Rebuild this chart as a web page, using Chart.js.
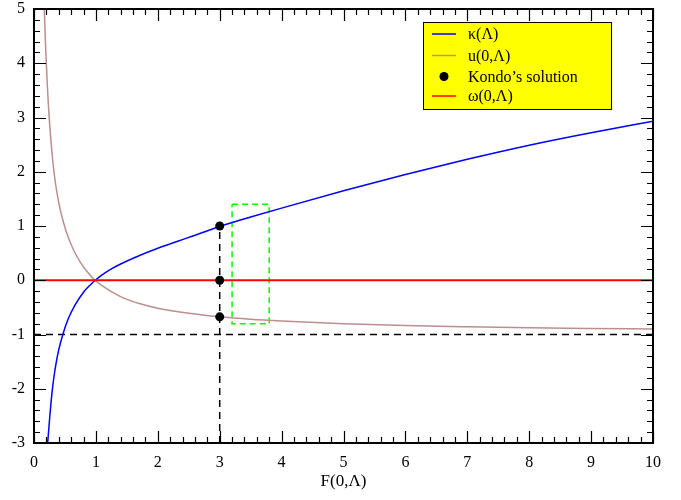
<!DOCTYPE html>
<html>
<head>
<meta charset="utf-8">
<script src="https://cdn.jsdelivr.net/npm/chart.js@4.4.1/dist/chart.umd.min.js"></script>
<style>
html,body{margin:0;padding:0;background:#fff;}
#wrap{width:681px;height:500px;}
</style>
</head>
<body>
<div id="wrap"><canvas id="c" width="681" height="500"></canvas></div>
<script>
// ---- data ----
const kappaF   = [0.215, 0.221, 0.235, 0.25, 0.275, 0.296, 0.325, 0.355, 0.40, 0.468, 0.55, 0.662, 0.80, 0.90, 1.0, 1.1, 1.25, 1.4, 1.63, 2.0, 2.5, 3.0, 3.5, 4, 5, 6, 7, 8, 9, 10];
const kappaVal = [-3.12, -3.0, -2.8, -2.58, -2.25, -2.02, -1.76, -1.54, -1.28, -0.99, -0.72, -0.46, -0.22, -0.095, 0.01, 0.10, 0.21, 0.30, 0.42, 0.59, 0.79, 0.99, 1.165, 1.33, 1.65, 1.95, 2.23, 2.49, 2.72, 2.93];
const uF   = [0.166, 0.175, 0.185, 0.2, 0.215, 0.23, 0.25, 0.275, 0.3, 0.33, 0.37, 0.42, 0.48, 0.55, 0.65, 0.75, 0.85, 0.985, 1.1, 1.25, 1.45, 1.7, 2.0, 2.5, 3.0, 3.5, 4, 5, 6, 7, 8, 9, 10];
const uVal = [5.0, 4.7, 4.38, 3.98, 3.6, 3.28, 2.92, 2.55, 2.24, 1.93, 1.62, 1.32, 1.05, 0.8, 0.53, 0.33, 0.17, 0.0, -0.1, -0.21, -0.33, -0.43, -0.515, -0.61, -0.675, -0.72, -0.752, -0.8, -0.835, -0.858, -0.876, -0.889, -0.9];
const kondoF   = [3, 3, 3];
const kondoVal = [1, 0, -0.675];
const omegaF   = [0, 10];
const omegaVal = [0, 0];
const hGuideF   = [0, 10];
const hGuideVal = [-1, -1];
const vGuideF   = [3, 3];
const vGuideVal = [-3, 1];
const boxF   = [3.2, 3.8, 3.8, 3.2, 3.2];
const boxVal = [1.4, 1.4, -0.8, -0.8, 1.4];
const legendLabels = ['κ(Λ)', 'u(0,Λ)', 'Kondo’s solution', 'ω(0,Λ)'];
const xTitle = 'F(0,Λ)';
const xMin = 0, xMax = 10, yMin = -3, yMax = 5;

const pts = (xs, ys) => xs.map((x, i) => ({x: x, y: ys[i]}));
const FONT = "'Liberation Serif','Times New Roman',serif";

const COL = {kappa: '#0000ff', u: '#bc8f8f', omega: '#ff0000', kondo: '#000000', box: '#00ff00'};

const framePlugin = {
  id: 'frameTicks',
  afterDraw(chart) {
    const ctx = chart.ctx, a = chart.chartArea, xs = chart.scales.x, ys = chart.scales.y;
    ctx.save();
    ctx.strokeStyle = '#000';
    ctx.lineWidth = 1.2;
    ctx.beginPath();
    const nx = (xMax - xMin) * 5;
    for (let i = 0; i <= nx; i++) {
      const px = Math.round(xs.getPixelForValue(xMin + i / 5)) + 0.5;
      const L = (i % 5 === 0) ? 12 : 6;
      ctx.moveTo(px, a.bottom); ctx.lineTo(px, a.bottom - L);
      ctx.moveTo(px, a.top); ctx.lineTo(px, a.top + L);
    }
    const ny = (yMax - yMin) * 5;
    for (let i = 0; i <= ny; i++) {
      const py = Math.round(ys.getPixelForValue(yMin + i / 5)) + 0.5;
      const L = (i % 5 === 0) ? 12 : 6;
      ctx.moveTo(a.left, py); ctx.lineTo(a.left + L, py);
      ctx.moveTo(a.right, py); ctx.lineTo(a.right - L, py);
    }
    ctx.stroke();
    ctx.lineWidth = 2;
    ctx.strokeRect(a.left, a.top, a.right - a.left, a.bottom - a.top);

    // legend
    const bx = 423, by = 22, bw = 188, bh = 87;
    ctx.fillStyle = '#ffff00';
    ctx.fillRect(bx, by, bw, bh);
    ctx.lineWidth = 1;
    ctx.strokeStyle = '#000';
    ctx.strokeRect(bx + 0.5, by + 0.5, bw, bh);
    const rows = [34, 55.5, 76.5, 96];
    const kinds = [['line', COL.kappa], ['line', COL.u], ['dot', COL.kondo], ['line', COL.omega]];
    ctx.font = '16px ' + FONT;
    ctx.textBaseline = 'middle';
    ctx.textAlign = 'left';
    rows.forEach((y, i) => {
      const [k, c] = kinds[i];
      if (k === 'line') {
        ctx.strokeStyle = c; ctx.lineWidth = 1.5;
        ctx.beginPath(); ctx.moveTo(432, y); ctx.lineTo(456, y); ctx.stroke();
      } else {
        ctx.fillStyle = c;
        ctx.beginPath(); ctx.arc(444, y, 4.5, 0, Math.PI * 2); ctx.fill();
      }
      ctx.fillStyle = '#000';
      ctx.fillText(legendLabels[i], 468, y + 1);
    });
    ctx.restore();
  }
};

new Chart(document.getElementById('c'), {
  type: 'scatter',
  data: {
    datasets: [
      {label: legendLabels[2], data: pts(kondoF, kondoVal), showLine: false, pointRadius: 4.5, pointBackgroundColor: COL.kondo, pointBorderColor: COL.kondo, pointBorderWidth: 0},
      {label: legendLabels[3], data: pts(omegaF, omegaVal), showLine: true, borderColor: COL.omega, borderWidth: 2, pointRadius: 0},
      {label: legendLabels[0], data: pts(kappaF, kappaVal), showLine: true, borderColor: COL.kappa, borderWidth: 1.5, pointRadius: 0, cubicInterpolationMode: 'monotone'},
      {label: legendLabels[1], data: pts(uF, uVal), showLine: true, borderColor: COL.u, borderWidth: 1.5, pointRadius: 0, cubicInterpolationMode: 'monotone'},
      {label: 'hguide', data: pts(hGuideF, hGuideVal), showLine: true, borderColor: '#000', borderWidth: 1.5, borderDash: [7, 5], pointRadius: 0},
      {label: 'vguide', data: pts(vGuideF, vGuideVal), showLine: true, borderColor: '#000', borderWidth: 1.5, borderDash: [7, 5], pointRadius: 0},
      {label: 'box', data: pts(boxF, boxVal), showLine: true, borderColor: COL.box, borderWidth: 1.5, borderDash: [6, 4], pointRadius: 0}
    ]
  },
  options: {
    responsive: false,
    animation: false,
    events: [],
    layout: {padding: {left: 0, right: 28, top: 9, bottom: 0}},
    plugins: {legend: {display: false}, tooltip: {enabled: false}},
    scales: {
      x: {
        type: 'linear', min: xMin, max: xMax,
        grid: {display: false, drawTicks: false},
        border: {display: false},
        ticks: {stepSize: 1, color: '#000', padding: 10, font: {family: FONT, size: 16}, maxRotation: 0},
        title: {display: true, text: xTitle, color: '#000', font: {family: FONT, size: 17}, padding: {top: 0, bottom: 8}},
        afterFit: s => { s.height = 57; s.paddingLeft = 0; s.paddingRight = 0; }
      },
      y: {
        type: 'linear', min: yMin, max: yMax,
        grid: {display: false, drawTicks: false},
        border: {display: false},
        ticks: {stepSize: 1, color: '#000', padding: 9, font: {family: FONT, size: 16}},
        afterFit: s => { s.width = 34; s.paddingTop = 0; s.paddingBottom = 0; }
      }
    }
  },
  plugins: [framePlugin]
});
</script>
</body>
</html>
